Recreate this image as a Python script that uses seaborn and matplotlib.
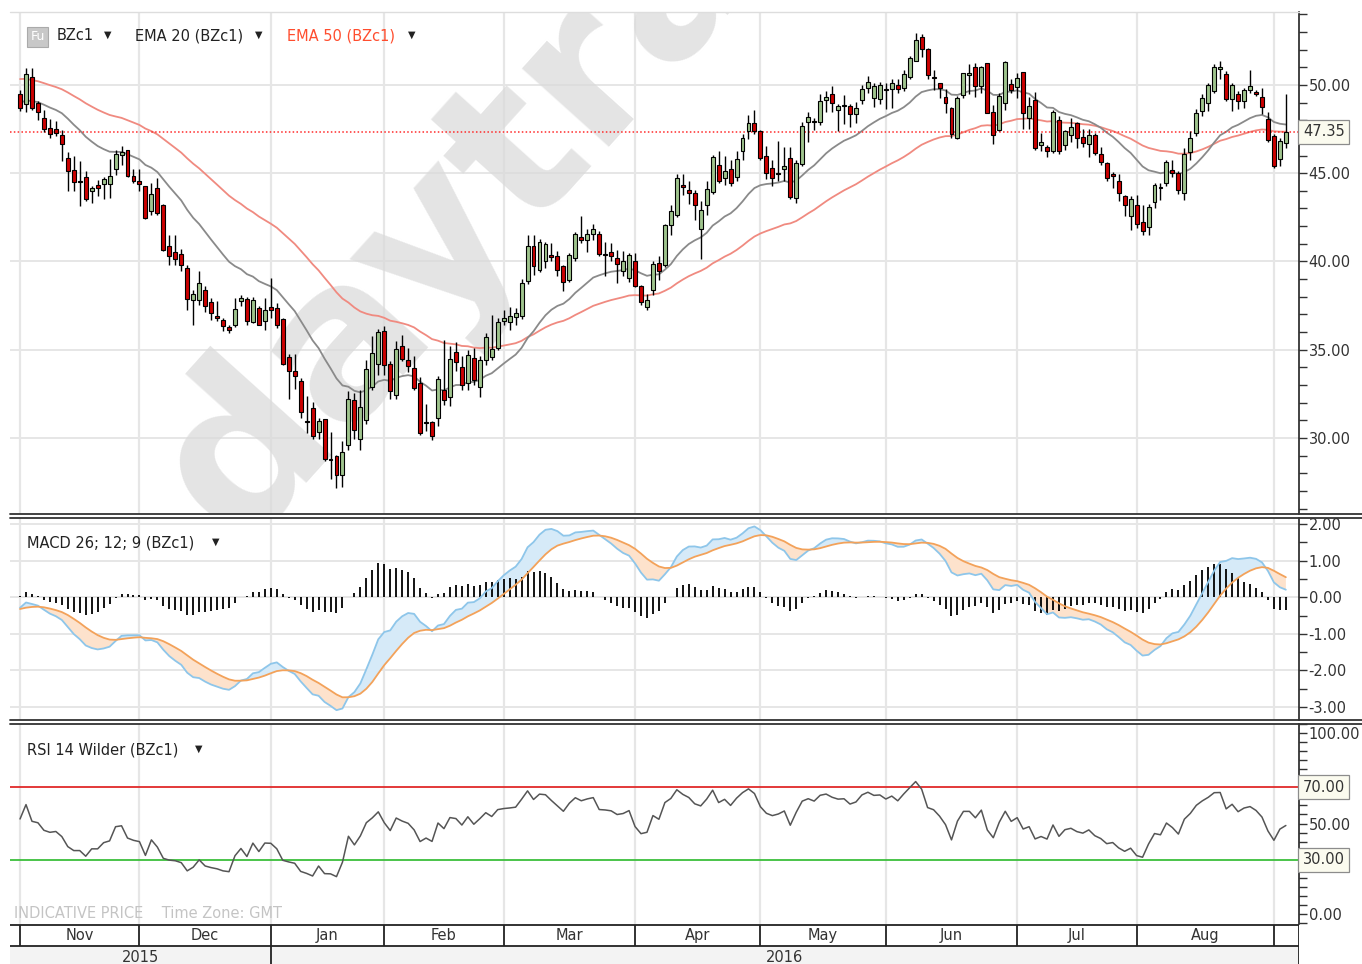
import numpy as np
import pandas as pd
import seaborn as sns
import matplotlib.pyplot as plt
from matplotlib.ticker import MultipleLocator, FixedLocator, FuncFormatter
from matplotlib.lines import Line2D
from matplotlib.patches import Rectangle

# daily Brent (BZc1) candles, Nov 2015 - early Sep 2016
opens = [
    49.51, 48.94, 50.42, 49.00, 48.14, 47.54, 47.48, 47.16, 45.87, 45.19,
    44.58, 44.77, 43.98, 44.32, 44.36, 44.39, 45.21, 46.02, 46.29, 44.83,
    44.58, 44.26, 42.84, 44.17, 43.22, 40.85, 40.53, 40.42, 39.62, 37.80,
    37.83, 38.40, 37.68, 36.93, 36.67, 36.29, 36.37, 37.74, 37.87, 36.55,
    37.36, 36.61, 37.40, 37.36, 36.74, 34.60, 33.79, 33.22, 30.96, 31.71,
    30.34, 31.05, 28.83, 28.95, 27.92, 29.62, 32.17, 29.94, 31.00, 32.89,
    34.21, 36.04, 34.21, 32.45, 35.19, 34.43, 33.96, 33.11, 30.89, 30.89,
    31.13, 32.70, 32.32, 34.85, 34.02, 33.11, 34.53, 32.89, 34.40, 34.57,
    35.10, 36.60, 36.55, 36.85, 36.89, 38.87, 40.89, 39.49, 40.00, 40.38,
    40.28, 39.75, 38.96, 40.19, 41.38, 41.23, 41.57, 41.57, 40.43, 40.51,
    40.19, 39.43, 39.06, 40.00, 38.62, 37.42, 38.40, 39.91, 39.81, 42.08,
    42.64, 44.34, 44.06, 43.89, 41.81, 43.17, 43.92, 45.47, 44.72, 45.21,
    44.77, 46.28, 47.36, 47.85, 47.36, 45.96, 45.28, 45.02, 45.21, 45.85,
    43.58, 45.53, 47.89, 47.92, 47.89, 49.13, 49.47, 48.56, 48.82, 48.80,
    48.37, 49.13, 49.85, 49.28, 49.18, 49.75, 49.75, 50.00, 49.81, 50.46,
    51.37, 52.74, 52.03, 50.46, 50.08, 49.32, 48.67, 47.00, 49.43, 50.57,
    50.99, 49.94, 51.26, 48.49, 47.45, 48.96, 50.06, 49.87, 50.75, 48.11,
    49.15, 46.60, 46.51, 46.23, 48.02, 46.60, 47.17, 47.83, 47.04, 46.66,
    47.17, 46.09, 45.60, 44.96, 44.58, 43.68, 42.60, 43.21, 42.26, 41.96,
    43.38, 44.24, 44.43, 45.19, 45.00, 43.86, 46.20, 47.28, 48.52, 48.99,
    49.66, 50.89, 50.61, 49.18, 49.51, 49.09, 49.70, 49.62, 49.32, 48.04,
    47.09, 45.82, 46.71,
]
highs = [
    49.70, 50.95, 50.95, 49.09, 48.56, 48.05, 47.95, 47.42, 46.21, 45.97,
    45.68, 45.11, 44.26, 44.64, 44.77, 45.78, 46.34, 46.53, 46.34, 45.21,
    45.21, 44.30, 44.45, 44.70, 43.26, 41.48, 41.51, 40.72, 39.81, 38.40,
    39.44, 38.59, 37.93, 37.74, 36.80, 36.42, 37.93, 38.12, 37.98, 37.98,
    37.46, 37.93, 39.06, 37.65, 36.80, 34.73, 34.73, 33.41, 32.37, 32.03,
    31.15, 31.09, 30.34, 29.02, 29.81, 32.64, 32.55, 32.70, 34.43, 35.79,
    36.17, 36.36, 34.34, 35.47, 35.85, 35.09, 34.62, 33.45, 31.94, 30.94,
    33.53, 35.57, 35.19, 35.42, 34.62, 34.96, 35.09, 34.62, 35.94, 36.98,
    36.79, 37.26, 37.42, 37.36, 39.00, 41.51, 41.51, 41.26, 41.08, 41.04,
    40.57, 39.81, 40.47, 41.64, 42.58, 41.83, 42.13, 41.70, 41.08, 41.04,
    40.66, 40.57, 40.47, 40.47, 38.68, 38.17, 40.00, 40.28, 42.13, 43.17,
    44.96, 44.96, 44.58, 44.02, 43.45, 44.58, 46.04, 46.23, 45.96, 45.72,
    46.28, 47.23, 48.30, 48.55, 47.47, 46.53, 45.77, 46.85, 46.47, 46.47,
    45.72, 47.92, 48.45, 48.11, 49.49, 49.66, 49.94, 48.94, 49.43, 48.94,
    49.05, 50.00, 50.51, 50.08, 50.19, 50.08, 50.32, 50.32, 50.84, 51.65,
    52.93, 52.89, 52.09, 50.84, 50.13, 49.75, 48.75, 49.37, 50.70, 51.18,
    51.22, 51.08, 51.26, 48.87, 49.53, 51.38, 50.32, 50.66, 50.75, 49.34,
    49.62, 47.26, 46.60, 48.58, 48.21, 47.45, 48.11, 47.92, 47.49, 47.49,
    47.26, 46.51, 45.66, 45.04, 44.96, 43.77, 43.68, 43.77, 43.21, 43.23,
    44.43, 44.43, 45.76, 45.76, 45.10, 46.43, 47.38, 48.61, 49.51, 50.13,
    51.18, 51.33, 50.76, 50.08, 49.66, 49.85, 50.84, 49.70, 49.85, 48.48,
    47.19, 47.00, 49.47,
]
lows = [
    48.54, 48.48, 48.56, 47.99, 47.35, 47.00, 47.10, 45.68, 43.98, 43.98,
    43.12, 43.41, 43.31, 43.69, 43.56, 43.60, 44.92, 45.49, 44.77, 44.45,
    43.98, 42.42, 42.65, 42.65, 40.57, 39.81, 39.81, 39.43, 37.27, 36.37,
    37.55, 37.12, 36.70, 36.61, 36.05, 35.95, 36.29, 37.46, 36.42, 36.52,
    36.37, 36.14, 36.80, 36.23, 34.11, 32.18, 32.75, 31.15, 30.30, 29.96,
    29.96, 28.70, 27.66, 27.14, 27.23, 29.30, 29.94, 29.30, 30.81, 32.70,
    33.58, 33.58, 32.21, 32.21, 34.34, 33.72, 32.74, 30.19, 30.38, 29.87,
    30.70, 31.89, 31.83, 33.77, 32.74, 32.74, 33.02, 32.32, 34.15, 34.40,
    35.00, 36.40, 36.13, 36.42, 36.74, 38.74, 39.25, 39.38, 39.62, 40.00,
    39.19, 38.30, 38.81, 40.00, 41.04, 40.51, 41.23, 40.32, 39.15, 40.00,
    38.77, 39.19, 38.81, 38.55, 37.55, 37.23, 38.11, 38.96, 39.68, 41.47,
    42.51, 43.74, 43.26, 42.32, 40.15, 42.64, 43.83, 44.45, 44.34, 44.30,
    44.58, 45.72, 46.94, 47.23, 45.77, 44.68, 44.26, 44.58, 44.53, 43.55,
    43.32, 45.40, 46.79, 47.47, 47.70, 48.48, 48.48, 47.38, 47.76, 47.61,
    47.85, 48.90, 49.56, 48.75, 48.90, 48.61, 48.71, 49.56, 49.66, 50.32,
    51.33, 51.56, 50.32, 49.70, 49.24, 48.42, 47.00, 46.96, 49.28, 49.47,
    49.32, 49.56, 48.40, 46.66, 47.36, 48.58, 49.53, 49.25, 47.49, 47.49,
    46.32, 46.23, 45.91, 46.13, 46.09, 46.32, 46.79, 46.42, 46.51, 45.91,
    46.04, 45.47, 44.58, 44.15, 43.40, 42.55, 41.79, 41.89, 41.51, 41.48,
    43.00, 43.48, 44.30, 44.81, 43.80, 43.48, 45.76, 47.09, 48.23, 48.52,
    49.56, 50.32, 49.09, 48.52, 48.61, 48.71, 49.56, 49.37, 48.33, 46.77,
    45.29, 45.38, 46.43,
]
closes = [
    48.67, 50.61, 48.67, 48.48, 47.48, 47.20, 47.29, 46.63, 45.15, 44.49,
    44.49, 43.54, 44.17, 44.17, 44.68, 44.83, 46.10, 46.19, 44.83, 44.55,
    44.39, 42.46, 43.83, 42.75, 40.66, 40.28, 40.15, 39.77, 37.87, 38.17,
    38.78, 37.46, 37.08, 36.80, 36.33, 36.14, 37.33, 37.93, 36.61, 37.83,
    36.42, 37.27, 37.23, 36.37, 34.16, 33.79, 33.50, 31.47, 30.89, 30.11,
    30.96, 28.83, 28.76, 27.89, 29.19, 32.21, 30.47, 31.75, 33.91, 34.81,
    35.98, 34.15, 32.64, 35.04, 34.47, 34.06, 32.83, 30.28, 30.85, 30.09,
    33.34, 32.17, 34.47, 34.28, 33.02, 34.72, 33.26, 34.40, 35.72, 35.04,
    36.55, 36.79, 36.92, 37.08, 38.77, 40.89, 39.72, 41.08, 41.00, 40.25,
    39.53, 38.81, 40.38, 41.57, 41.19, 41.57, 41.83, 40.43, 40.38, 40.28,
    39.87, 40.00, 40.38, 38.62, 37.68, 37.83, 39.87, 39.43, 42.04, 42.83,
    44.72, 44.21, 43.87, 43.17, 42.94, 44.11, 45.91, 44.53, 45.15, 44.45,
    45.81, 46.98, 47.85, 47.36, 45.85, 45.02, 44.72, 44.96, 45.40, 43.64,
    45.58, 47.66, 48.17, 47.89, 49.06, 49.32, 48.99, 48.80, 48.86, 48.37,
    48.67, 49.75, 50.19, 49.94, 50.00, 49.70, 50.08, 49.75, 50.61, 51.52,
    52.55, 52.03, 50.57, 50.38, 49.81, 48.99, 47.19, 49.28, 50.65, 50.65,
    49.94, 50.99, 48.43, 47.17, 49.38, 51.32, 49.72, 50.38, 48.43, 48.81,
    46.42, 46.79, 46.28, 48.49, 46.23, 47.36, 47.60, 46.98, 46.70, 47.17,
    46.17, 45.66, 44.72, 44.85, 43.87, 43.21, 43.53, 42.10, 41.75, 43.10,
    44.33, 44.14, 45.63, 45.00, 44.05, 46.08, 47.00, 48.42, 49.28, 50.00,
    50.99, 51.03, 49.18, 50.00, 49.09, 49.70, 49.94, 49.51, 48.75, 46.90,
    45.38, 46.84, 47.35,
]

# candle index where each month starts (the grid lines)
month_starts = [0, 20, 42, 61, 81, 103, 124, 145, 167, 187, 210]
month_names = ["Nov", "Dec", "Jan", "Feb", "Mar", "Apr", "May", "Jun", "Jul", "Aug", ""]
year_names = ["2015", "2016"]
year_starts = [0, 42]
last_price = 47.35

# indicator start values, read at the left edge of each panel
ema20_start, ema50_start = 49.0, 50.4
ema12_start, ema26_start = 49.15, 49.42
signal_start = -0.33
rsi_gain_start, rsi_loss_start = 0.42, 0.38


def ema(values, span, start):
    s = pd.Series([start] + list(values))
    return s.ewm(span=span, adjust=False).mean().to_numpy()[1:]


def wilder_rsi(values, n, g0, l0):
    ag, al = g0, l0
    out = []
    prev = values[0]
    for v in values:
        d = v - prev
        ag = (ag * (n - 1) + max(d, 0)) / n
        al = (al * (n - 1) + max(-d, 0)) / n
        out.append(100 - 100 / (1 + ag / al))
        prev = v
    return np.array(out)


df = pd.DataFrame({"open": opens, "high": highs, "low": lows, "close": closes})
df["i"] = np.arange(len(df))
df["ema20"] = ema(df["close"], 20, ema20_start)
df["ema50"] = ema(df["close"], 50, ema50_start)
df["macd"] = ema(df["close"], 12, ema12_start) - ema(df["close"], 26, ema26_start)
df["signal"] = ema(df["macd"], 9, signal_start)
df["histo"] = df["macd"] - df["signal"]
df["rsi"] = wilder_rsi(df["close"].to_numpy(), 14, rsi_gain_start, rsi_loss_start)

sns.set_theme(style="white")
plt.rcParams["font.family"] = ["DejaVu Sans"]

W, H = 1362, 964
FS = 10.5


def rect(x0, y0, x1, y1):
    return [x0 / W, 1 - y1 / H, (x1 - x0) / W, (y1 - y0) / H]


fig = plt.figure(figsize=(W / 100, H / 100), dpi=100)
fig.patch.set_facecolor("white")
ax_p = fig.add_axes(rect(10, 12, 1299, 514))
ax_m = fig.add_axes(rect(10, 517.5, 1299, 720), sharex=ax_p)
ax_r = fig.add_axes(rect(10, 723.5, 1299, 924), sharex=ax_p)
ax_d = fig.add_axes(rect(10, 924, 1299, 964), sharex=ax_p)

xmin, xmax = -1.68, 214.2
grid_c = "#e6e6e6"
tick_c = "#333333"
fmt = FuncFormatter(lambda v, p: f"{v:.2f}")

for ax in (ax_p, ax_m, ax_r):
    ax.set_xlim(xmin, xmax)
    ax.vlines(month_starts, -100, 200, color=grid_c, lw=1.6, zorder=0)
    ax.yaxis.tick_right()
    ax.tick_params(axis="x", length=0, labelbottom=False)
    ax.tick_params(axis="y", which="both", direction="out", length=6, width=1,
                   colors=tick_c, labelsize=FS, pad=1)
    ax.yaxis.set_major_formatter(fmt)
    for s in ("top", "bottom", "left"):
        ax.spines[s].set_visible(False)
    ax.spines["right"].set_color("#222222")
    ax.spines["right"].set_linewidth(1.2)

# ---- price panel ----
ax_p.set_ylim(25.69, 54.13)
ax_p.yaxis.set_major_locator(MultipleLocator(5))
ax_p.yaxis.set_minor_locator(MultipleLocator(1))
for v in (30, 35, 40, 45, 50):
    ax_p.axhline(v, color=grid_c, lw=1.4, zorder=0)

ax_p.text(238 / W, 1 - 548 / H, "daytrading", transform=fig.transFigure,
          rotation=48, rotation_mode="anchor", ha="left", va="baseline",
          fontsize=154, fontweight="bold", color="#dadada", alpha=0.72,
          zorder=0.5, clip_on=True)

sns.lineplot(data=df, x="i", y="ema50", ax=ax_p, color="#f08a80", lw=1.3, zorder=2)
sns.lineplot(data=df, x="i", y="ema20", ax=ax_p, color="#8a8a8a", lw=1.3, zorder=2)
ax_p.axhline(last_price, color="#ff2a2a", lw=1.1, ls=(0, (1, 1.5)), zorder=2.5)

up = df["close"] >= df["open"]
body_lo = np.minimum(df["open"], df["close"])
body_h = np.maximum((df["close"] - df["open"]).abs(), 0.04)
ax_p.vlines(df["i"], df["low"], df["high"], color="black", lw=1.0, zorder=3)
ax_p.bar(df["i"], body_h, bottom=body_lo, width=0.66,
         color=np.where(up, "#9fc48d", "#cc0000"), edgecolor="black",
         linewidth=0.8, zorder=4)
ax_p.set_xlabel("")
ax_p.set_ylabel("")

ax_p.text(1.003, last_price, f"{last_price:.2f}",
          transform=ax_p.get_yaxis_transform(), va="center", ha="left",
          fontsize=FS, color=tick_c, zorder=10, clip_on=False,
          bbox=dict(boxstyle="square,pad=0.3", fc="#fbfbef", ec="#8c8c8c", lw=0.9))

# ---- MACD panel ----
ax_m.set_ylim(-3.355, 2.178)
ax_m.yaxis.set_major_locator(MultipleLocator(1))
ax_m.yaxis.set_minor_locator(MultipleLocator(0.5))
for v in range(-3, 3):
    ax_m.axhline(v, color=grid_c, lw=1.4, zorder=0)
ax_m.fill_between(df["i"], df["macd"], df["signal"], where=df["macd"] >= df["signal"],
                  interpolate=True, color="#d6eaf8", lw=0, zorder=1)
ax_m.fill_between(df["i"], df["macd"], df["signal"], where=df["macd"] < df["signal"],
                  interpolate=True, color="#fde2cc", lw=0, zorder=1)
ax_m.vlines(df["i"], 0, df["histo"], color="black", lw=1.3, zorder=2)
sns.lineplot(data=df, x="i", y="macd", ax=ax_m, color="#8ec6ea", lw=1.3, zorder=3)
sns.lineplot(data=df, x="i", y="signal", ax=ax_m, color="#f3a25a", lw=1.3, zorder=3)
ax_m.set_xlabel("")
ax_m.set_ylabel("")

# ---- RSI panel ----
ax_r.set_ylim(-5.52, 105.25)
ax_r.yaxis.set_major_locator(FixedLocator([0, 50, 100]))
ax_r.yaxis.set_minor_locator(MultipleLocator(5))
ax_r.axhline(70, color="#e02a2a", lw=1.3, zorder=2)
ax_r.axhline(30, color="#3cbf3c", lw=1.3, zorder=2)
sns.lineplot(data=df, x="i", y="rsi", ax=ax_r, color="#555555", lw=1.1, zorder=3)
ax_r.set_xlabel("")
ax_r.set_ylabel("")
for v in (70, 30):
    ax_r.text(1.003, v, f"{v:.2f}", transform=ax_r.get_yaxis_transform(),
              va="center", ha="left", fontsize=FS, color=tick_c, zorder=10,
              clip_on=False,
              bbox=dict(boxstyle="square,pad=0.3", fc="#fbfbef", ec="#8c8c8c", lw=0.9))

# ---- date strip ----
ax_d.set_ylim(40, 0)
ax_d.axis("off")
ax_d.fill_between([xmin, xmax], 22, 40, color="#f3f3f3", lw=0)
ax_d.hlines([1, 22], xmin, xmax, color="#222222", lw=1.3)
ax_d.vlines(month_starts + [xmax], 1, 22, color="#222222", lw=1.3)
ax_d.vlines([42, xmax], 22, 40, color="#222222", lw=1.3)
bounds = month_starts + [xmax]
for k, name in enumerate(month_names):
    ax_d.text((bounds[k] + bounds[k + 1]) / 2, 11.5, name, ha="center",
              va="center", fontsize=FS, color=tick_c)
ybounds = [xmin, 42, xmax]
for k, name in enumerate(year_names):
    ax_d.text((ybounds[k] + ybounds[k + 1]) / 2, 33.5, name, ha="center",
              va="center", fontsize=FS, color=tick_c)

# panel separators
for y in (514, 517.5, 720, 723.5):
    fig.add_artist(Line2D([10 / W, 1], [1 - y / H, 1 - y / H], color="#333333",
                          lw=1.3, transform=fig.transFigure))
fig.add_artist(Line2D([10 / W, 1299 / W], [1 - 12 / H, 1 - 12 / H],
                      color="#dddddd", lw=1, transform=fig.transFigure))

# legends / headers
fig.add_artist(Rectangle((27 / W, 1 - 47 / H), 21 / W, 20 / H, fc="#c8c8c8",
                         ec="#aaaaaa", lw=0.8, transform=fig.transFigure))
fig.text(37.5 / W, 1 - 37 / H, "Fu", ha="center", va="center", fontsize=9,
         color="white")
headers = [
    (57, 36, "BZc1", "#222222", 108),
    (135, 36, "EMA 20 (BZc1)", "#222222", 259),
    (287, 36, "EMA 50 (BZc1)", "#ff4d2e", 412),
    (27, 543, "MACD 26; 12; 9 (BZc1)", "#222222", 216),
    (27, 750, "RSI 14 Wilder (BZc1)", "#222222", 199),
]
for x, y, s, c, xt in headers:
    fig.text(x / W, 1 - y / H, s, va="center", fontsize=FS, color=c)
    fig.text(xt / W, 1 - (y - 1) / H, "\u25BC", va="center", ha="center",
             fontsize=7, color="#222222")
fig.text(14 / W, 1 - 913 / H, "INDICATIVE PRICE    Time Zone: GMT", va="center",
         fontsize=FS, color="#c4c4c4")

fig.savefig("out.png", dpi=100)
